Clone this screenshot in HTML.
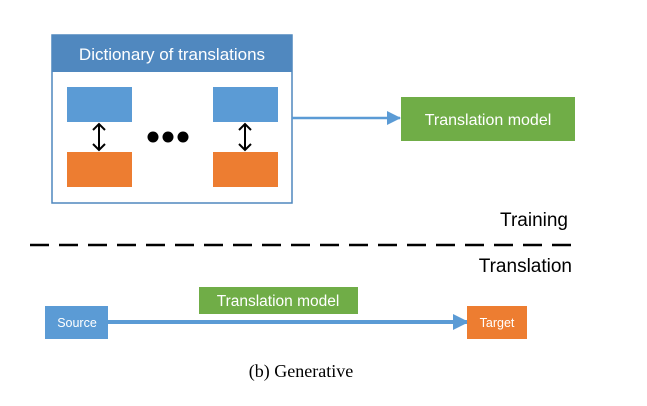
<!DOCTYPE html>
<html><head><style>
body{margin:0;width:647px;height:401px;background:#fff;overflow:hidden}
svg text{font-family:"Liberation Sans",sans-serif}
</style></head><body>
<svg width="647" height="401" xmlns="http://www.w3.org/2000/svg">
<defs>
<marker id="a" markerWidth="14" markerHeight="14" refX="13" refY="7" orient="auto" markerUnits="userSpaceOnUse"><path d="M0,0 L14,7 L0,14 z" fill="#5b9bd5"/></marker>
<marker id="b" markerWidth="16" markerHeight="16" refX="14" refY="8" orient="auto" markerUnits="userSpaceOnUse"><path d="M0,0 L16,8 L0,16 z" fill="#5b9bd5"/></marker>
</defs>
<rect x="52" y="35" width="240" height="168" fill="#fff" stroke="#4f87be" stroke-width="1.5"/>
<rect x="52" y="35" width="240" height="37" fill="#5088bf"/>
<text x="172" y="60" fill="#fff" font-size="17" text-anchor="middle">Dictionary of translations</text>
<rect x="67" y="87" width="65" height="35" fill="#5b9bd5"/>
<rect x="213" y="87" width="65" height="35" fill="#5b9bd5"/>
<rect x="67" y="152" width="65" height="35" fill="#ed7d31"/>
<rect x="213" y="152" width="65" height="35" fill="#ed7d31"/>
<g stroke="#000" stroke-width="2" fill="none">
<path d="M99,124 V150 M93,130 L99,124 L105,130 M93,144 L99,150 L105,144"/>
<path d="M245,124 V150 M239,130 L245,124 L251,130 M239,144 L245,150 L251,144"/>
</g>
<circle cx="153" cy="137" r="5.5"/><circle cx="168" cy="137" r="5.5"/><circle cx="183" cy="137" r="5.5"/>
<line x1="292" y1="118" x2="400" y2="118" stroke="#5b9bd5" stroke-width="2.5" marker-end="url(#a)"/>
<rect x="401" y="97" width="174" height="44" fill="#70ad47"/>
<text x="488" y="125" fill="#fff" font-size="16" text-anchor="middle">Translation model</text>
<text x="568" y="226" font-size="19" text-anchor="end">Training</text>
<line x1="30" y1="245" x2="572" y2="245" stroke="#000" stroke-width="2.5" stroke-dasharray="19,10"/>
<text x="572" y="272" font-size="19" text-anchor="end">Translation</text>
<rect x="199" y="287" width="159" height="27" fill="#70ad47"/>
<text x="278" y="306" fill="#fff" font-size="15.5" text-anchor="middle">Translation model</text>
<line x1="108" y1="322" x2="467" y2="322" stroke="#5b9bd5" stroke-width="4" marker-end="url(#b)"/>
<rect x="45" y="306" width="63" height="33" fill="#5b9bd5"/>
<text x="77" y="327" fill="#fff" font-size="12.5" text-anchor="middle">Source</text>
<rect x="467" y="306" width="60" height="33" fill="#ed7d31"/>
<text x="497" y="327" fill="#fff" font-size="12.5" text-anchor="middle">Target</text>
<text x="301" y="377" font-size="18" text-anchor="middle" style="font-family:'Liberation Serif',serif">(b) Generative</text>
</svg>
</body></html>
